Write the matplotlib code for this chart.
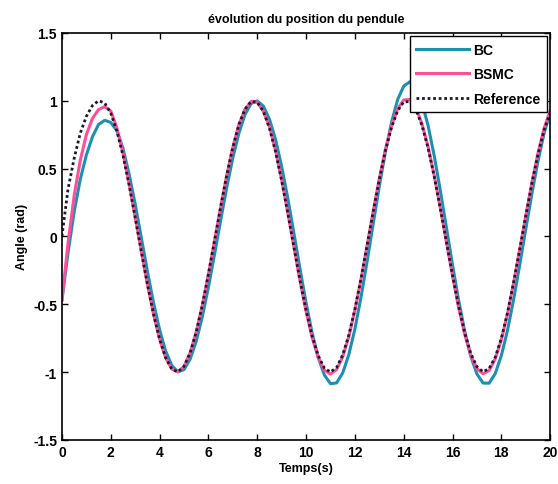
import numpy as np
import matplotlib
matplotlib.use("Agg")
from matplotlib import pyplot as plt

plt.rcParams['font.family'] = ['Liberation Sans', 'DejaVu Sans']

# temps (s), pas de 0.25 s
t = np.arange(0, 20.01, 0.25)

# reference
ref = [0.000, 0.350, 0.575, 0.760, 0.885, 0.965, 1.000, 0.984,
       0.909, 0.778, 0.598, 0.382, 0.141, -0.108, -0.351, -0.572,
       -0.757, -0.895, -0.978, -0.999, -0.959, -0.859, -0.706, -0.508,
       -0.279, -0.033, 0.215, 0.450, 0.657, 0.825, 0.938, 0.995,
       0.989, 0.923, 0.798, 0.625, 0.412, 0.174, -0.075, -0.321,
       -0.544, -0.736, -0.880, -0.971, -1.000, -0.967, -0.875, -0.729,
       -0.537, -0.312, -0.066, 0.182, 0.420, 0.632, 0.803, 0.926,
       0.991, 0.994, 0.935, 0.817, 0.650, 0.442, 0.206, -0.042,
       -0.288, -0.516, -0.712, -0.865, -0.961, -0.998, -0.974, -0.890,
       -0.751, -0.564, -0.340, -0.097, 0.150, 0.390, 0.605, 0.784,
       0.913]

# BC
bc = [-0.470, -0.120, 0.180, 0.420, 0.600, 0.735, 0.825, 0.856,
      0.840, 0.780, 0.650, 0.460, 0.239, -0.008, -0.256, -0.487,
      -0.688, -0.846, -0.952, -0.998, -0.982, -0.905, -0.773, -0.592,
      -0.374, -0.133, 0.117, 0.360, 0.579, 0.762, 0.899, 0.980,
      0.999, 0.961, 0.864, 0.714, 0.516, 0.283, 0.026, -0.237,
      -0.490, -0.713, -0.894, -1.022, -1.086, -1.080, -1.007, -0.872,
      -0.683, -0.448, -0.185, 0.093, 0.368, 0.623, 0.840, 1.008,
      1.108, 1.140, 1.096, 0.985, 0.815, 0.594, 0.338, 0.064,
      -0.211, -0.471, -0.699, -0.886, -1.014, -1.081, -1.082, -1.011,
      -0.878, -0.694, -0.467, -0.212, 0.054, 0.315, 0.554, 0.761,
      0.911]

# BSMC
bsmc = [-0.470, -0.050, 0.300, 0.560, 0.750, 0.870, 0.935, 0.957,
        0.925, 0.800, 0.615, 0.390, 0.141, -0.108, -0.351, -0.572,
        -0.757, -0.895, -0.978, -0.999, -0.959, -0.859, -0.706, -0.508,
        -0.279, -0.033, 0.215, 0.450, 0.657, 0.825, 0.938, 0.995,
        0.989, 0.923, 0.810, 0.634, 0.418, 0.177, -0.076, -0.326,
        -0.552, -0.747, -0.893, -0.986, -1.015, -0.982, -0.888, -0.740,
        -0.545, -0.317, -0.067, 0.185, 0.426, 0.641, 0.815, 0.940,
        1.006, 1.009, 0.949, 0.829, 0.660, 0.449, 0.209, -0.043,
        -0.292, -0.524, -0.723, -0.878, -0.975, -1.013, -0.989, -0.903,
        -0.762, -0.572, -0.345, -0.098, 0.152, 0.396, 0.614, 0.796,
        0.927]

fig = plt.figure(figsize=(5.58, 4.85), dpi=100)
ax = fig.add_axes([0.111, 0.091, 0.875, 0.839])

ax.plot(t, bc, color='#1f8fae', lw=2.2, label='BC')
ax.plot(t, bsmc, color='#ff4f9a', lw=2.2, label='BSMC')
ax.plot(t, ref, color='#1a1a2a', lw=2.0, ls=(0, (1, 1)), label='Reference')

ax.set_xlim(0, 20)
ax.set_ylim(-1.5, 1.5)
ax.set_xticks(np.arange(0, 21, 2))
ax.set_yticks([-1.5, -1, -0.5, 0, 0.5, 1, 1.5])
ax.set_yticklabels(['-1.5', '-1', '-0.5', '0', '0.5', '1', '1.5'])
ax.tick_params(direction='in', top=True, right=True, length=4, width=1,
               labelsize=10)
for lab in ax.get_xticklabels() + ax.get_yticklabels():
    lab.set_fontweight('bold')
for s in ax.spines.values():
    s.set_linewidth(1.2)

ax.set_title('évolution du position du pendule', fontsize=9, fontweight='bold', pad=8)
ax.set_xlabel('Temps(s)', fontsize=9, fontweight='bold', labelpad=2)
ax.set_ylabel('Angle (rad)', fontsize=9, fontweight='bold', labelpad=4)

leg = ax.legend(loc='upper right', handlelength=3.8,
                borderaxespad=0.25, fancybox=False, framealpha=1,
                edgecolor='black', borderpad=0.45, labelspacing=0.75,
                handletextpad=0.3, prop={'weight': 'bold', 'size': 10})
leg.get_frame().set_linewidth(1.0)

fig.savefig('out.png', dpi=100)
